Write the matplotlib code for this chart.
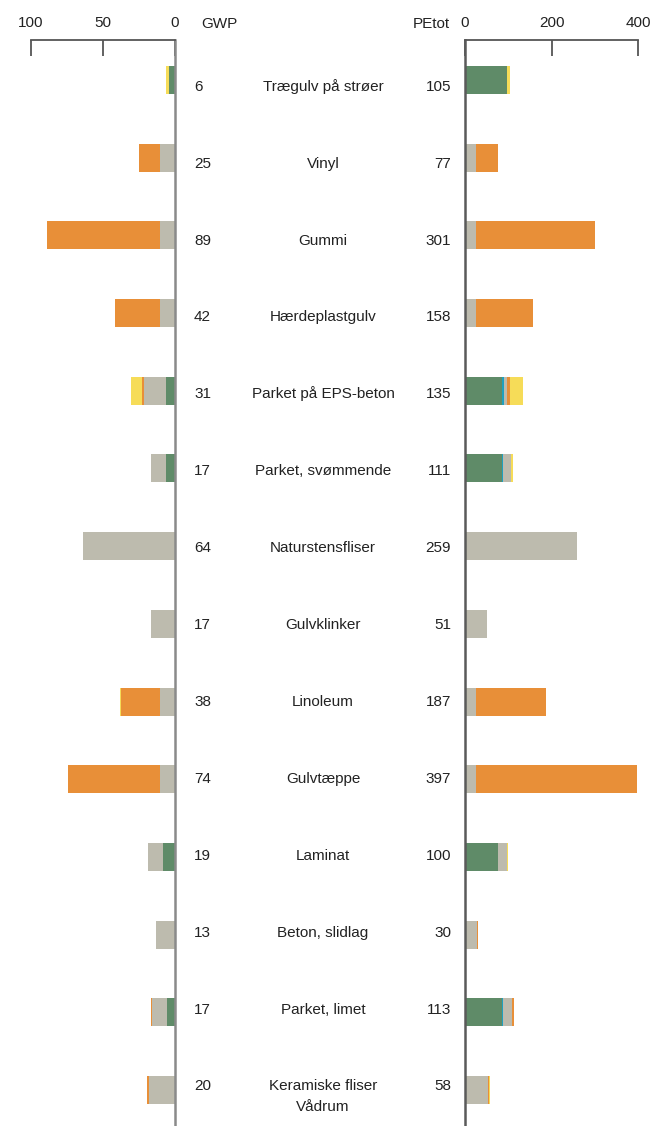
import matplotlib
matplotlib.use("Agg")
import matplotlib.pyplot as plt
import numpy as np

plt.rcParams["font.family"] = ["Liberation Sans", "DejaVu Sans"]

# Materials, top to bottom
materials = [
    "Trægulv på strøer", "Vinyl", "Gummi", "Hærdeplastgulv",
    "Parket på EPS-beton", "Parket, svømmende", "Naturstensfliser",
    "Gulvklinker", "Linoleum", "Gulvtæppe", "Laminat", "Beton, slidlag",
    "Parket, limet", "Keramiske fliser\nVådrum",
]
gwp_total = [6, 25, 89, 42, 31, 17, 64, 17, 38, 74, 19, 13, 17, 20]
pe_total = [105, 77, 301, 158, 135, 111, 259, 51, 187, 397, 100, 30, 113, 58]

# GWP components (stacked from the centre line outwards)
gwp_green = [4.5, 0, 0, 0, 6.3, 6.3, 0, 0, 0, 0, 8.3, 0, 5.8, 0]
gwp_teal = [0, 0, 0, 0, 0, 0, 0, 0, 0, 0, 0, 0, 0, 0]
gwp_gray = [0, 10.4, 10.4, 10.4, 15.5, 10.4, 64, 17, 10.4, 10.4, 10.4, 13, 10, 18.3]
gwp_orange = [0, 14.6, 78.5, 31.6, 1.4, 0, 0, 0, 27.3, 64, 0, 0, 1.2, 1.4]
gwp_yellow = [1.5, 0, 0, 0, 7.4, 0, 0, 0, 0.5, 0, 0, 0, 0, 0]

# PEtot components
pe_green = [98, 0, 0, 0, 86, 86, 0, 0, 0, 0, 77, 0, 86, 0]
pe_teal = [0, 0, 0, 0, 4, 2, 0, 0, 0, 0, 0, 0, 2, 0]
pe_gray = [0, 25, 25, 25, 8, 19, 259, 51, 25, 25, 20, 28, 20, 53]
pe_orange = [0, 51, 275, 132, 5, 0, 0, 0, 162, 372, 0, 2, 4.6, 3.5]
pe_yellow = [7, 1, 0, 0, 32, 4.6, 0, 0, 0, 0, 3, 0, 0, 1.5]

colors = ["#5f8b68", "#1fa0c0", "#bdbbae", "#e88f38", "#f6dc58"]

W, H = 652, 1126
fig = plt.figure(figsize=(W / 100, H / 100), dpi=100)

rows = np.arange(len(materials))
bar_h = 0.36
top_px = 40
ylim = (13.463, -0.515)
ax_h = (H - top_px) / H

ax_l = fig.add_axes([31 / W, 0, 144 / W, ax_h])
ax_r = fig.add_axes([465 / W, 0, 173 / W, ax_h])


def draw_stack(ax, parts):
    left = np.zeros(len(rows))
    for vals, col in zip(parts, colors):
        vals = np.array(vals, dtype=float)
        ax.barh(rows, vals, left=left, height=bar_h, color=col, linewidth=0)
        left += vals


draw_stack(ax_l, [gwp_green, gwp_teal, gwp_gray, gwp_orange, gwp_yellow])
draw_stack(ax_r, [pe_green, pe_teal, pe_gray, pe_orange, pe_yellow])

ax_l.set_xlim(100, 0)
ax_r.set_xlim(0, 400)
ax_l.set_xticks([100, 50, 0])
ax_r.set_xticks([0, 200, 400])

fs = 11
for ax in (ax_l, ax_r):
    ax.set_ylim(*ylim)
    ax.set_yticks([])
    ax.xaxis.tick_top()
    ax.tick_params(axis="x", direction="in", length=11.5, width=1.3,
                   color="#555555", pad=7, labelsize=fs, labelcolor="#222222")
    ax.spines["bottom"].set_visible(False)
    ax.spines["top"].set_color("#555555")
    ax.spines["top"].set_linewidth(1.3)
    ax.patch.set_alpha(0)

ax_l.spines["left"].set_visible(False)
ax_l.spines["right"].set_color("#8a8a8a")
ax_l.spines["right"].set_linewidth(1.8)
ax_r.spines["right"].set_visible(False)
ax_r.spines["left"].set_color("#5a5a5a")
ax_r.spines["left"].set_linewidth(1.8)

# Labels in the middle
ax_t = fig.add_axes([0, 0, 1, 1])
ax_t.set_xlim(0, W)
ax_t.set_ylim((H - 85) / 76.9, -85 / 76.9)
ax_t.axis("off")
ax_t.patch.set_alpha(0)

txt = dict(fontsize=fs, color="#222222", va="baseline")
off = 0.075
line_step = 0.27
for i, name in enumerate(materials):
    ax_t.text(194, i + off, str(gwp_total[i]), ha="left", **txt)
    for j, line in enumerate(name.split("\n")):
        ax_t.text(323, i + off + j * line_step, line, ha="center", **txt)
    ax_t.text(451, i + off, str(pe_total[i]), ha="right", **txt)

ax_t.text(201, -61 / 76.9, "GWP", ha="left", va="center", fontsize=fs, color="#222222")
ax_t.text(450, -61 / 76.9, "PEtot", ha="right", va="center", fontsize=fs, color="#222222")

fig.savefig("out.png", dpi=100)
